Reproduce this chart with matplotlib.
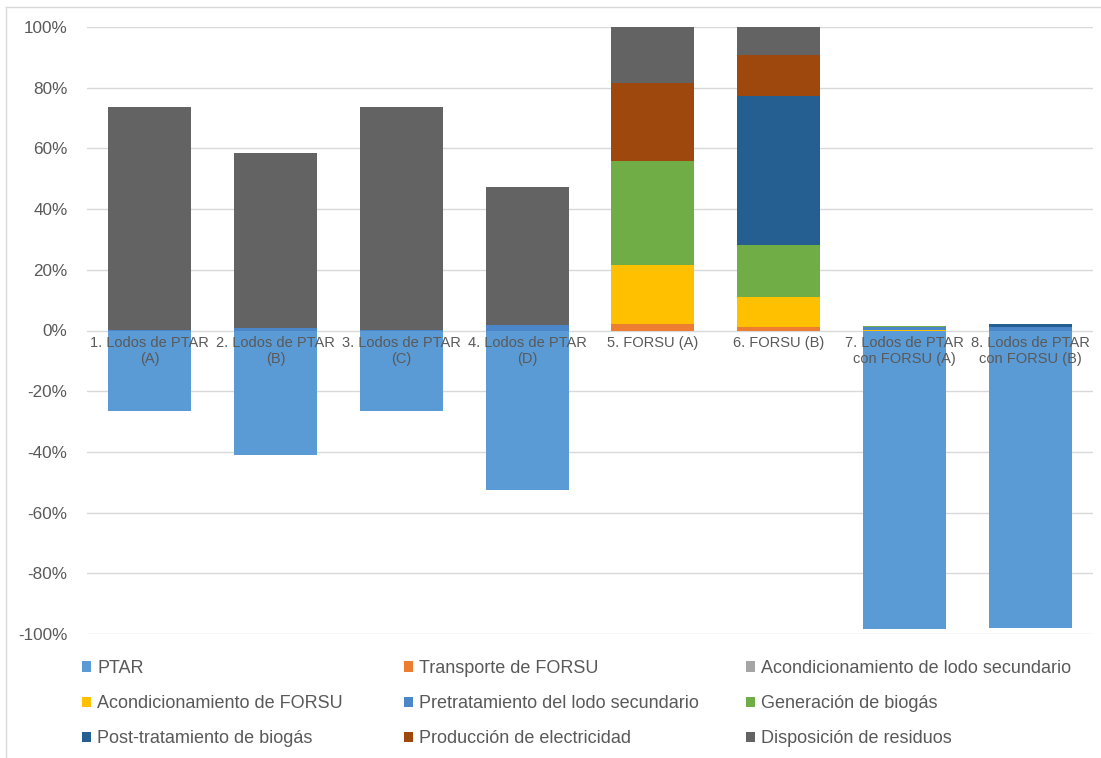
import numpy as np
import matplotlib
matplotlib.use("Agg")
import matplotlib.pyplot as plt
from matplotlib.lines import Line2D
from matplotlib.ticker import FuncFormatter

plt.rcParams['font.family'] = ['Liberation Sans', 'DejaVu Sans']

# Escenarios evaluados
categorias = [
    "1. Lodos de PTAR\n(A)", "2. Lodos de PTAR\n(B)", "3. Lodos de PTAR\n(C)",
    "4. Lodos de PTAR\n(D)", "5. FORSU (A)", "6. FORSU (B)",
    "7. Lodos de PTAR\ncon FORSU (A)", "8. Lodos de PTAR\ncon FORSU (B)",
]

# Contribución porcentual de cada etapa (%)
ptar                 = [-26.5, -41.0, -26.5, -52.5,  0.0,  0.0, -98.5, -98.0]
transporte_forsu     = [  0.0,   0.0,   0.0,   0.0,  2.3,  1.3,   0.0,   0.0]
acond_lodo_sec       = [  0.0,   0.0,   0.0,   0.0,  0.0,  0.0,   0.0,   0.0]
acond_forsu          = [  0.0,   0.0,   0.0,   0.0, 19.4,  9.6,   0.2,   0.0]
pretrat_lodo_sec     = [  0.3,   0.7,   0.3,   1.8,  0.0,  0.0,   1.0,   1.2]
generacion_biogas    = [  0.0,   0.0,   0.0,   0.0, 34.0, 17.4,   0.3,   0.0]
post_trat_biogas     = [  0.0,   0.0,   0.0,   0.0,  0.0, 48.9,   0.0,   0.8]
prod_electricidad    = [  0.0,   0.0,   0.0,   0.0, 26.0, 13.7,   0.0,   0.0]
disposicion_residuos = [ 73.2,  57.9,  73.2,  45.6, 18.3,  9.1,   0.0,   0.0]

series = [
    ("PTAR", ptar, "#5B9BD5"),
    ("Transporte de FORSU", transporte_forsu, "#ED7D31"),
    ("Acondicionamiento de lodo secundario", acond_lodo_sec, "#A5A5A5"),
    ("Acondicionamiento de FORSU", acond_forsu, "#FFC000"),
    ("Pretratamiento del lodo secundario", pretrat_lodo_sec, "#4A86C8"),
    ("Generación de biogás", generacion_biogas, "#70AD47"),
    ("Post-tratamiento de biogás", post_trat_biogas, "#255E91"),
    ("Producción de electricidad", prod_electricidad, "#9E480E"),
    ("Disposición de residuos", disposicion_residuos, "#636363"),
]

fig = plt.figure(figsize=(11.01, 7.58), dpi=100)
W, H = 1101, 758
ax = fig.add_axes([87 / W, 1 - 634 / H, (1093 - 87) / W, (634 - 27) / H])

x = np.arange(len(categorias))
pos_base = np.zeros(len(categorias))
neg_base = np.zeros(len(categorias))
handles = []
for nombre, valores, color in series:
    v = np.asarray(valores, dtype=float)
    base = np.where(v >= 0, pos_base, neg_base)
    b = ax.bar(x, v, bottom=base, width=0.66, color=color, label=nombre,
               zorder=2, linewidth=0)
    handles.append(b)
    pos_base += np.where(v > 0, v, 0)
    neg_base += np.where(v < 0, v, 0)

ax.set_xlim(-0.5, len(categorias) - 0.5)
ax.set_ylim(-100, 100)
yt = np.arange(-100, 101, 20)
ax.set_yticks(yt)
for y in yt:
    ax.axhline(y, color="#D9D9D9", lw=1.0, zorder=0)
ax.yaxis.set_major_formatter(FuncFormatter(lambda v, p: f"{v:.0f}%"))
ax.tick_params(axis="y", length=0, pad=14, labelsize=12.3, labelcolor="#595959")
ax.set_xticks([])
for s in ax.spines.values():
    s.set_visible(False)

# Etiquetas de categoría junto al eje horizontal (y = 0)
for i, lab in enumerate(categorias):
    ax.annotate(lab, xy=(i, 0), xytext=(0, -4), textcoords="offset points",
                ha="center", va="top", fontsize=10.5, color="#595959",
                linespacing=1.15, zorder=5)

# Leyenda en tres columnas, llenada por filas
col_x = [82 / W, 404 / W, 746 / W]
for c in range(3):
    hs = [handles[c], handles[c + 3], handles[c + 6]]
    labs = [series[c][0], series[c + 3][0], series[c + 6][0]]
    fig.legend(hs, labs, loc="upper left", bbox_to_anchor=(col_x[c], 1 - 660 / H),
               frameon=False, fontsize=13, handlelength=0.5, handleheight=0.5,
               handletextpad=0.35, labelspacing=1.0, borderpad=0,
               borderaxespad=0, labelcolor="#595959")

# Marco del área del gráfico
fig.add_artist(Line2D([6 / W, 6 / W], [0, 1 - 7 / H], color="#D9D9D9", lw=1.0))
fig.add_artist(Line2D([6 / W, 1], [1 - 7 / H, 1 - 7 / H], color="#D9D9D9", lw=1.0))

fig.savefig("out.png", dpi=100, facecolor="white")
